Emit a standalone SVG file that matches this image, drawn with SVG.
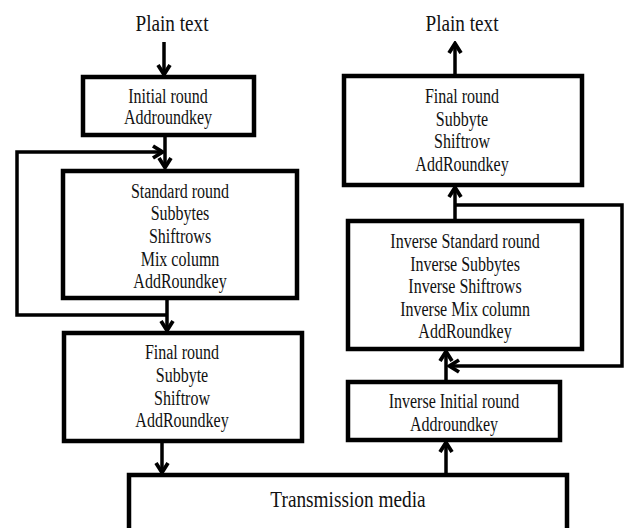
<svg xmlns="http://www.w3.org/2000/svg" width="629" height="528" viewBox="0 0 629 528">
<style>
  .box { fill: #ffffff; stroke: #000000; stroke-width: 4.5; }
  .t { font-family: "Liberation Serif", "Times New Roman", serif; font-size: 20px; fill: #111111; text-anchor: middle; }
  .big { font-size: 24px; }
  .mid { font-size: 23px; }
  .c { fill: none; stroke: #000000; stroke-width: 3.5; stroke-linejoin: miter; }
</style>
<defs>
  <marker id="ah" viewBox="0 0 14 16" refX="12" refY="8" markerWidth="14" markerHeight="16" markerUnits="userSpaceOnUse" orient="auto">
    <path d="M2,2 L11.5,8 L2,14" fill="none" stroke="#000000" stroke-width="3.8" stroke-linejoin="miter"/>
  </marker>
</defs>
<rect width="629" height="528" fill="#ffffff"/>

<g id="connectors">
  <path class="c" d="M164,42 L164,75" marker-end="url(#ah)"/>
  <path class="c" d="M165,137 L165,168" marker-end="url(#ah)"/>
  <path class="c" d="M167,315 L17,315 L17,152 L163,152" marker-end="url(#ah)"/>
  <path class="c" d="M167,300 L167,331" marker-end="url(#ah)"/>
  <path class="c" d="M162,443 L162,473" marker-end="url(#ah)"/>
  <path class="c" d="M446,475 L446,442" marker-end="url(#ah)"/>
  <path class="c" d="M446,380 L446,351" marker-end="url(#ah)"/>
  <path class="c" d="M455,205 L622,205 L622,366 L449,366" marker-end="url(#ah)"/>
  <path class="c" d="M455,219 L455,187" marker-end="url(#ah)"/>
  <path class="c" d="M455,74 L455,43" marker-end="url(#ah)"/>
</g>

<g id="plain-in">
  <text class="t big" transform="translate(172,31) scale(0.8,1)">Plain text</text>
</g>
<g id="plain-out">
  <text class="t big" transform="translate(462,31) scale(0.8,1)">Plain text</text>
</g>

<g id="initial-round">
  <rect class="box" x="83" y="77" width="171" height="58"/>
  <text class="t" transform="translate(168,103) scale(0.8,1)">Initial round</text>
  <text class="t" transform="translate(168,124) scale(0.8,1)">Addroundkey</text>
</g>

<g id="standard-round">
  <rect class="box" x="63" y="171" width="234" height="127"/>
  <text class="t" transform="translate(180,198) scale(0.8,1)">Standard round</text>
  <text class="t" transform="translate(180,220) scale(0.8,1)">Subbytes</text>
  <text class="t" transform="translate(180,243) scale(0.8,1)">Shiftrows</text>
  <text class="t" transform="translate(180,266) scale(0.8,1)">Mix column</text>
  <text class="t" transform="translate(180,288) scale(0.8,1)">AddRoundkey</text>
</g>

<g id="final-round-left">
  <rect class="box" x="64" y="333" width="238" height="108"/>
  <text class="t" transform="translate(182,359) scale(0.8,1)">Final round</text>
  <text class="t" transform="translate(182,382) scale(0.8,1)">Subbyte</text>
  <text class="t" transform="translate(182,405) scale(0.8,1)">Shiftrow</text>
  <text class="t" transform="translate(182,427) scale(0.8,1)">AddRoundkey</text>
</g>

<g id="transmission-media">
  <rect class="box" x="129" y="475" width="438" height="58"/>
  <text class="t mid" transform="translate(348,507) scale(0.84,1)">Transmission media</text>
</g>

<g id="inverse-initial-round">
  <rect class="box" x="348" y="382" width="212" height="58"/>
  <text class="t" transform="translate(454,408) scale(0.8,1)">Inverse Initial round</text>
  <text class="t" transform="translate(454,431) scale(0.8,1)">Addroundkey</text>
</g>

<g id="inverse-standard-round">
  <rect class="box" x="348" y="221" width="234" height="128"/>
  <text class="t" transform="translate(465,248) scale(0.8,1)">Inverse Standard round</text>
  <text class="t" transform="translate(465,271) scale(0.8,1)">Inverse Subbytes</text>
  <text class="t" transform="translate(465,293) scale(0.8,1)">Inverse Shiftrows</text>
  <text class="t" transform="translate(465,316) scale(0.8,1)">Inverse Mix column</text>
  <text class="t" transform="translate(465,338) scale(0.8,1)">AddRoundkey</text>
</g>

<g id="final-round-right">
  <rect class="box" x="344" y="76" width="238" height="109"/>
  <text class="t" transform="translate(462,103) scale(0.8,1)">Final round</text>
  <text class="t" transform="translate(462,126) scale(0.8,1)">Subbyte</text>
  <text class="t" transform="translate(462,148) scale(0.8,1)">Shiftrow</text>
  <text class="t" transform="translate(462,171) scale(0.8,1)">AddRoundkey</text>
</g>
</svg>
